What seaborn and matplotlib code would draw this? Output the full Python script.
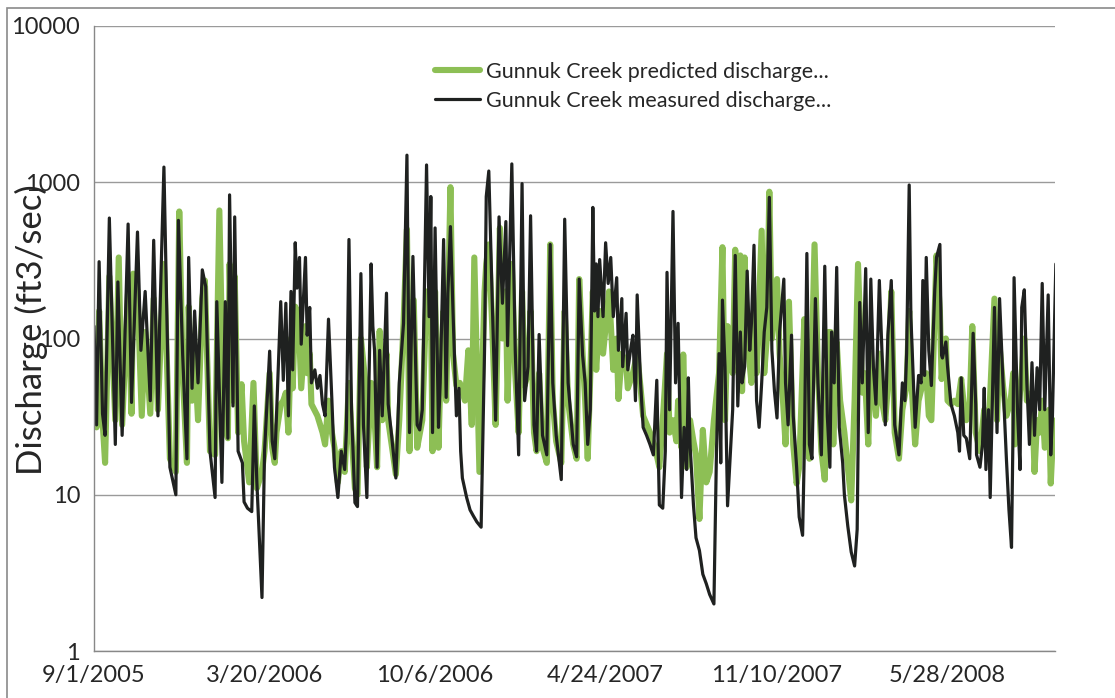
import pandas as pd
import matplotlib
matplotlib.use('Agg')
import matplotlib.pyplot as plt
import matplotlib.dates as mdates
import matplotlib.ticker as mticker
from matplotlib.patches import Rectangle
import seaborn as sns

# Gunnuk Creek daily discharge
START = pd.Timestamp('2005-09-01')

measured_day = [
    0, 3, 6, 10, 13, 18, 25, 28, 33, 40, 44, 51, 55, 60, 66, 70, 75, 77, 82, 89,
    96, 99, 104, 109, 111, 115, 118, 122, 127, 131, 136, 142, 144, 150, 154, 157, 159, 163, 165, 169,
    174, 176, 180, 185, 188, 191, 197, 200, 206, 209, 212, 214, 219, 222, 225, 228, 231, 233, 236, 238,
    241, 243, 248, 250, 253, 255, 259, 262, 265, 268, 271, 275, 279, 282, 286, 290, 294, 296, 299, 302,
    306, 309, 313, 316, 320, 325, 327, 329, 332, 335, 338, 343, 345, 349, 354, 358, 363, 367, 370, 374,
    379, 382, 385, 390, 393, 395, 397, 400, 404, 406, 410, 413, 415, 418, 421, 425, 428, 430, 432, 437,
    441, 445, 449, 454, 458, 460, 463, 467, 471, 475, 479, 483, 485, 490, 494, 498, 502, 505, 509, 512,
    516, 519, 522, 526, 531, 535, 538, 542, 548, 552, 556, 562, 566, 569, 573, 576, 579, 582, 585, 587,
    589, 591, 593, 597, 600, 603, 606, 609, 613, 615, 619, 620, 624, 626, 630, 632, 635, 637, 641, 644,
    648, 652, 656, 660, 663, 667, 670, 672, 675, 679, 682, 685, 689, 692, 695, 697, 699, 703, 706, 710,
    714, 718, 722, 727, 730, 733, 735, 737, 740, 743, 749, 752, 755, 758, 760, 763, 766, 769, 771, 774,
    777, 780, 783, 786, 789, 792, 795, 798, 801, 804, 809, 811, 814, 818, 820, 824, 827, 831, 833, 836,
    839, 842, 846, 849, 853, 857, 860, 863, 865, 868, 871, 874, 878, 880, 884, 888, 892, 895, 896, 898,
    901, 905, 908, 911, 914, 917, 921, 924, 928, 931, 935, 939, 944, 948, 951, 953, 956, 958, 963, 967,
    970, 972, 974, 976, 979, 982, 986, 988, 992, 994, 995, 999, 1001, 1005, 1009, 1013, 1015, 1017, 1020, 1023,
    1027, 1031, 1034, 1035, 1039, 1042, 1044, 1046, 1049, 1051, 1054, 1056, 1059, 1062, 1066, 1070, 1073, 1076, 1078, 1079,
    1083, 1086, 1088, 1091, 1094, 1097, 1100, 1103, 1106, 1109, 1112, 1115, 1119, 1122, 1124, 1128,
]
measured_cfs = [
    120, 28, 310, 33, 24, 590, 21, 230, 24, 540, 39, 480, 84, 200, 40, 425, 32, 125, 1250, 15,
    10, 570, 78, 17, 330, 48, 150, 52, 275, 215, 19, 9.6, 172, 12, 172, 23, 830, 37, 600, 19,
    16, 9, 8.2, 7.8, 37, 12, 2.2, 19, 83, 22, 17, 32, 172, 54, 168, 32, 200, 63, 410, 210,
    330, 92, 330, 105, 158, 52, 63, 48, 58, 38, 32, 133, 40, 15, 9.6, 19, 14.5, 26, 430, 35,
    8.9, 8.4, 260, 28, 9.6, 300, 120, 84, 15, 84, 32, 195, 38, 24, 12.8, 52, 125, 1490, 25, 335,
    28, 26, 35, 1290, 138, 810, 25, 510, 27, 52, 430, 42, 195, 520, 150, 32, 48, 19, 12.8, 9.6,
    8, 7.3, 6.7, 6.2, 84, 810, 1180, 176, 30, 600, 168, 560, 90, 1310, 84, 18, 980, 40, 66, 610,
    28, 19, 106, 24, 18, 400, 52, 24, 12.5, 580, 52, 21, 17.5, 240, 78, 52, 21, 35, 690, 150,
    300, 138, 320, 138, 410, 225, 330, 138, 245, 84, 180, 66, 145, 63, 90, 105, 40, 190, 52, 27,
    24, 21, 18, 54, 8.6, 8.2, 19, 265, 35, 650, 52, 125, 9.6, 27, 14.5, 56, 21, 8.6, 5.3, 4.4,
    3.1, 2.7, 2.3, 2.0, 19, 80, 16, 176, 66, 8.5, 35, 340, 37, 110, 52, 66, 270, 84, 125, 395,
    40, 27, 52, 110, 158, 800, 84, 46, 31, 110, 240, 52, 28, 105, 32, 15, 7.2, 5.5, 19, 350,
    21, 17, 180, 52, 18, 290, 32, 15, 110, 52, 285, 27, 16, 10, 6.3, 4.3, 3.5, 6, 19, 170,
    52, 280, 25, 240, 66, 38, 235, 84, 28, 105, 235, 28, 18, 52, 40, 80, 960, 138, 27, 58,
    52, 235, 58, 330, 84, 50, 205, 330, 400, 78, 75, 95, 66, 38, 32, 25, 19, 56, 24, 23,
    17, 108, 38, 18, 15, 21, 48, 14.5, 35, 9.6, 52, 158, 25, 180, 52, 17, 8, 4.6, 32, 245,
    35, 14.5, 158, 205, 52, 21, 70, 24, 65, 35, 225, 35, 190, 18, 32, 300,
]

predicted_day = [
    0, 3, 6, 10, 13, 18, 25, 29, 33, 40, 44, 46, 51, 56, 60, 66, 70, 75, 78, 82,
    89, 96, 100, 104, 109, 111, 115, 118, 122, 127, 130, 136, 142, 147, 152, 157, 159, 163, 165, 169,
    173, 176, 182, 187, 191, 197, 200, 206, 209, 212, 214, 219, 222, 225, 228, 231, 233, 236, 240, 243,
    248, 250, 253, 255, 262, 268, 271, 275, 279, 282, 286, 290, 294, 299, 302, 306, 309, 313, 318, 320,
    325, 327, 332, 335, 338, 343, 345, 349, 354, 358, 363, 367, 370, 375, 379, 385, 390, 395, 397, 400,
    404, 406, 410, 413, 418, 421, 425, 429, 435, 439, 443, 446, 452, 458, 460, 463, 467, 471, 476, 479,
    483, 485, 490, 494, 498, 502, 505, 509, 512, 516, 519, 522, 526, 531, 535, 538, 542, 548, 552, 556,
    562, 566, 569, 573, 576, 579, 585, 587, 589, 593, 597, 604, 609, 613, 615, 619, 624, 626, 632, 637,
    641, 644, 652, 658, 663, 667, 672, 675, 679, 683, 685, 689, 691, 695, 699, 703, 706, 710, 714, 718,
    722, 727, 733, 737, 740, 743, 749, 752, 755, 758, 760, 763, 766, 771, 774, 777, 783, 786, 789, 792,
    795, 801, 804, 808, 811, 815, 820, 824, 827, 833, 836, 839, 845, 849, 853, 857, 861, 864, 867, 871,
    875, 880, 884, 888, 892, 896, 901, 904, 908, 911, 917, 921, 924, 928, 931, 935, 939, 944, 948, 953,
    956, 958, 963, 967, 972, 976, 979, 982, 988, 992, 994, 999, 1001, 1005, 1009, 1013, 1017, 1020, 1023, 1027,
    1030, 1034, 1039, 1044, 1046, 1049, 1056, 1059, 1062, 1066, 1070, 1075, 1078, 1080, 1083, 1088, 1091, 1094, 1100, 1103,
    1106, 1109, 1112, 1115, 1120, 1122, 1124, 1128,
]
predicted_cfs = [
    60, 27, 150, 30, 16, 250, 30, 330, 28, 200, 33, 260, 200, 32, 110, 33, 180, 35, 90, 300,
    17, 14, 650, 60, 16, 160, 40, 80, 30, 180, 235, 19, 18, 660, 30, 23, 300, 40, 250, 25,
    51, 22, 12, 52, 11, 14, 19, 60, 20, 16, 25, 38, 40, 45, 25, 100, 48, 160, 138, 48,
    120, 60, 80, 38, 32, 25, 21, 40, 25, 20, 12, 19, 14, 52, 25, 11, 10, 100, 54, 15,
    52, 50, 15, 112, 30, 80, 30, 21, 13.5, 30, 125, 500, 19, 176, 20, 30, 200, 200, 19, 200,
    20, 52, 150, 40, 930, 80, 50, 52, 40, 84, 28, 330, 14, 200, 300, 400, 120, 28, 510, 100,
    200, 40, 300, 60, 25, 200, 50, 60, 150, 25, 19, 60, 20, 16, 400, 40, 22, 16, 150, 40,
    21, 17, 240, 80, 40, 17, 200, 100, 63, 150, 80, 200, 63, 100, 41, 80, 70, 48, 60, 80,
    48, 32, 25, 20, 15, 30, 80, 25, 30, 22, 40, 20, 79, 15, 30, 22, 18, 7, 26, 12,
    14, 30, 60, 384, 30, 120, 60, 370, 80, 340, 46, 330, 100, 52, 150, 60, 490, 60, 100, 870,
    100, 240, 80, 40, 21, 172, 21, 11.8, 15, 133, 60, 17, 400, 60, 19, 12.5, 110, 110, 21, 95,
    40, 25, 15, 9.2, 40, 300, 45, 60, 21, 80, 32, 80, 40, 30, 50, 200, 25, 17, 35, 50,
    150, 60, 21, 40, 52, 60, 32, 30, 340, 150, 55, 100, 40, 38, 40, 38, 55, 38, 30, 38,
    120, 25, 19, 35, 30, 25, 180, 30, 90, 50, 32, 40, 60, 21, 30, 60, 100, 40, 45, 14,
    30, 25, 40, 20, 35, 11.8, 20, 30,
]

MAJOR_STEP_DAYS = 200
AXIS_DAYS = 1127

meas = pd.DataFrame({'date': START + pd.to_timedelta(measured_day, unit='D'),
                     'q': measured_cfs})
pred = pd.DataFrame({'date': START + pd.to_timedelta(predicted_day, unit='D'),
                     'q': predicted_cfs})

sns.set_style('white')
plt.rcParams['font.family'] = ['Lato', 'DejaVu Sans']

W, H = 1115, 698
fig = plt.figure(figsize=(W / 100, H / 100), dpi=100)
ax = fig.add_axes([94 / W, 1 - 651 / H, (1055 - 94) / W, (651 - 26) / H])

green = '#8dbf55'
dark = '#1f2120'

sns.lineplot(data=pred, x='date', y='q', color=green, lw=4.4, sort=False,
             estimator=None, ax=ax, label='Gunnuk Creek predicted discharge...')
sns.lineplot(data=meas, x='date', y='q', color=dark, lw=2.3, sort=False,
             estimator=None, ax=ax, label='Gunnuk Creek measured discharge...')

# log axis 1 .. 10000
ax.set_yscale('log')
ax.set_ylim(1, 10000)
ax.yaxis.set_major_locator(mticker.LogLocator(base=10, numticks=10))
ax.yaxis.set_minor_locator(mticker.NullLocator())
ax.yaxis.set_major_formatter(mticker.FuncFormatter(lambda v, p: f'{v:.0f}'))
ax.yaxis.grid(True, color='#9a9a9a', lw=1.0)
ax.xaxis.grid(False)

# date axis: major every 200 days, minor at month starts
x0 = mdates.date2num(START)
ax.set_xlim(x0, x0 + AXIS_DAYS)
majors = [x0 + k * MAJOR_STEP_DAYS for k in range(6)]
ax.xaxis.set_major_locator(mticker.FixedLocator(majors))
ax.xaxis.set_minor_locator(mdates.MonthLocator())


def fmt_date(v, pos):
    d = mdates.num2date(v)
    return f'{d.month}/{d.day}/{d.year}'


ax.xaxis.set_major_formatter(mticker.FuncFormatter(fmt_date))

ax.tick_params(axis='x', which='major', direction='out', length=6, width=1,
               color='#777777', labelsize=17, pad=4)
ax.tick_params(axis='x', which='minor', direction='in', length=5, width=1,
               color='#777777')
ax.tick_params(axis='y', which='major', direction='out', length=6, width=1,
               color='#9a9a9a', labelsize=17, pad=4)

for s in ['top', 'right']:
    ax.spines[s].set_visible(False)
for s in ['left', 'bottom']:
    ax.spines[s].set_color('#888888')
    ax.spines[s].set_linewidth(1.0)

ax.set_xlabel('')
ax.set_ylabel('Discharge (ft3/sec)', fontsize=25)
ax.yaxis.set_label_coords((48 - 94) / 961, (651 - 330) / 625)

ax.legend_.remove()
handles, labels = ax.get_legend_handles_labels()
fig.legend(handles, labels, loc='upper left',
           bbox_to_anchor=(435 / W, 1 - 62 / H), frameon=False,
           fontsize=15.5, handlelength=2.1, handletextpad=0.25,
           labelspacing=0.4, borderpad=0, borderaxespad=0)

# scanned chart-area frame
fig.patches.append(Rectangle((7 / W, -0.05), 1.2, 1.05 - 8 / H,
                             transform=fig.transFigure, fill=False,
                             edgecolor='#8a8a8a', lw=1.2))

fig.savefig('out.png', dpi=100)
